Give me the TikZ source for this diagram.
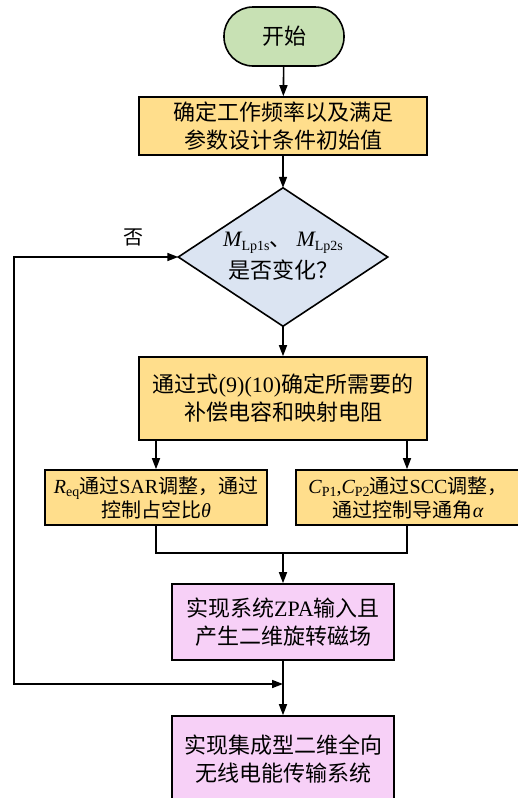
\documentclass[tikz,border=0pt]{standalone}
\usepackage{fontspec}
\setmainfont{Noto Sans CJK SC}
\newfontfamily\lat{Liberation Serif}
\usetikzlibrary{arrows.meta}
\definecolor{cgreen}{RGB}{200,225,180}
\definecolor{cyellow}{RGB}{255,222,140}
\definecolor{cblue}{RGB}{219,228,242}
\definecolor{cpink}{RGB}{247,208,247}
\newcommand\mysub[1]{\raisebox{-0.35ex}{\fontsize{14}{14}\selectfont\lat #1}}
\tikzset{
  box/.style={draw=black, line width=1.6pt, rectangle, inner sep=0pt, align=center,
    font=\fontsize{22}{28}\selectfont},
  smallbox/.style={box, font=\fontsize{20}{24}\selectfont},
  conn/.style={line width=1.6pt, -{Triangle[length=11pt,width=8pt]}},
  plain/.style={line width=1.6pt},
}
\begin{document}
\begin{tikzpicture}[x=1pt,y=-1pt]
\useasboundingbox (0,0) rectangle (518,798);
\clip (0,0) rectangle (518,798);
\fill[white] (0,0) rectangle (518,798);

\node[box, fill=cgreen, rounded corners=29pt, minimum width=120pt, minimum height=59pt] (start) at (284,36.5) {开始};
\node[box, fill=cyellow, minimum width=288pt, minimum height=58pt] (b1) at (283,126) {确定工作频率以及满足\\参数设计条件初始值};

\node[rectangle, inner sep=0pt, minimum width=209pt, minimum height=138pt] (dia) at (283,257) {};
\draw[line width=1.6pt, fill=cblue] (dia.north) -- (dia.east) -- (dia.south) -- (dia.west) -- cycle;
\node[align=center, font=\fontsize{22}{32}\selectfont] (diat) at (283,256) {{\lat\itshape M}\mysub{Lp1s}、\hspace{5pt}{\lat\itshape M}\mysub{Lp2s}\\是否变化？};

\node[box, fill=cyellow, minimum width=288pt, minimum height=83pt] (b2) at (283,398.5) {通过式{\lat (9)(10)}确定所需要的\\补偿电容和映射电阻};

\node[smallbox, fill=cyellow, minimum width=222pt, minimum height=55pt] (b3l) at (156,497.5) {{\lat\itshape R}\mysub{eq}通过{\lat SAR}调整，通过\\控制占空比{\lat\itshape θ}};
\node[smallbox, fill=cyellow, minimum width=224pt, minimum height=55pt] (b3r) at (408,497.5) {{\lat\itshape C}\mysub{P1}{\lat ,}{\lat\itshape C}\mysub{P2}通过{\lat SCC}调整，\\通过控制导通角{\lat\itshape α}};

\node[box, fill=cpink, minimum width=222pt, minimum height=76pt] (b4) at (283,622) {实现系统{\lat ZPA}输入且\\产生二维旋转磁场};
\node[box, fill=cpink, minimum width=222pt, minimum height=86pt] (b5) at (283,759) {实现集成型二维全向\\无线电能传输系统};

\node[font=\fontsize{20}{20}\selectfont] (no) at (133,237) {否};

\coordinate (jn) at (283,553);
\coordinate (mg) at (283,684);
\coordinate (cl) at (14,684);
\coordinate (xl) at (156,0);
\coordinate (xr) at (407,0);

\draw[conn] (start) -- (b1);
\draw[conn] (b1) -- (dia.north);
\draw[conn] (dia.south) -- (b2);
\draw[conn] (b2.south -| xl) -- (b3l.north -| xl);
\draw[conn] (b2.south -| xr) -- (b3r.north -| xr);
\draw[plain] (b3l.south -| xl) |- (jn);
\draw[plain] (b3r.south -| xr) |- (jn);
\draw[conn] (jn) -- (b4);
\draw[conn] (b4) -- (b5);
\draw[line width=1.6pt, {Triangle[length=11pt,width=8pt]}-{Triangle[length=11pt,width=8pt]}] (dia.west) -| (cl) -- (mg);
\end{tikzpicture}
\end{document}
